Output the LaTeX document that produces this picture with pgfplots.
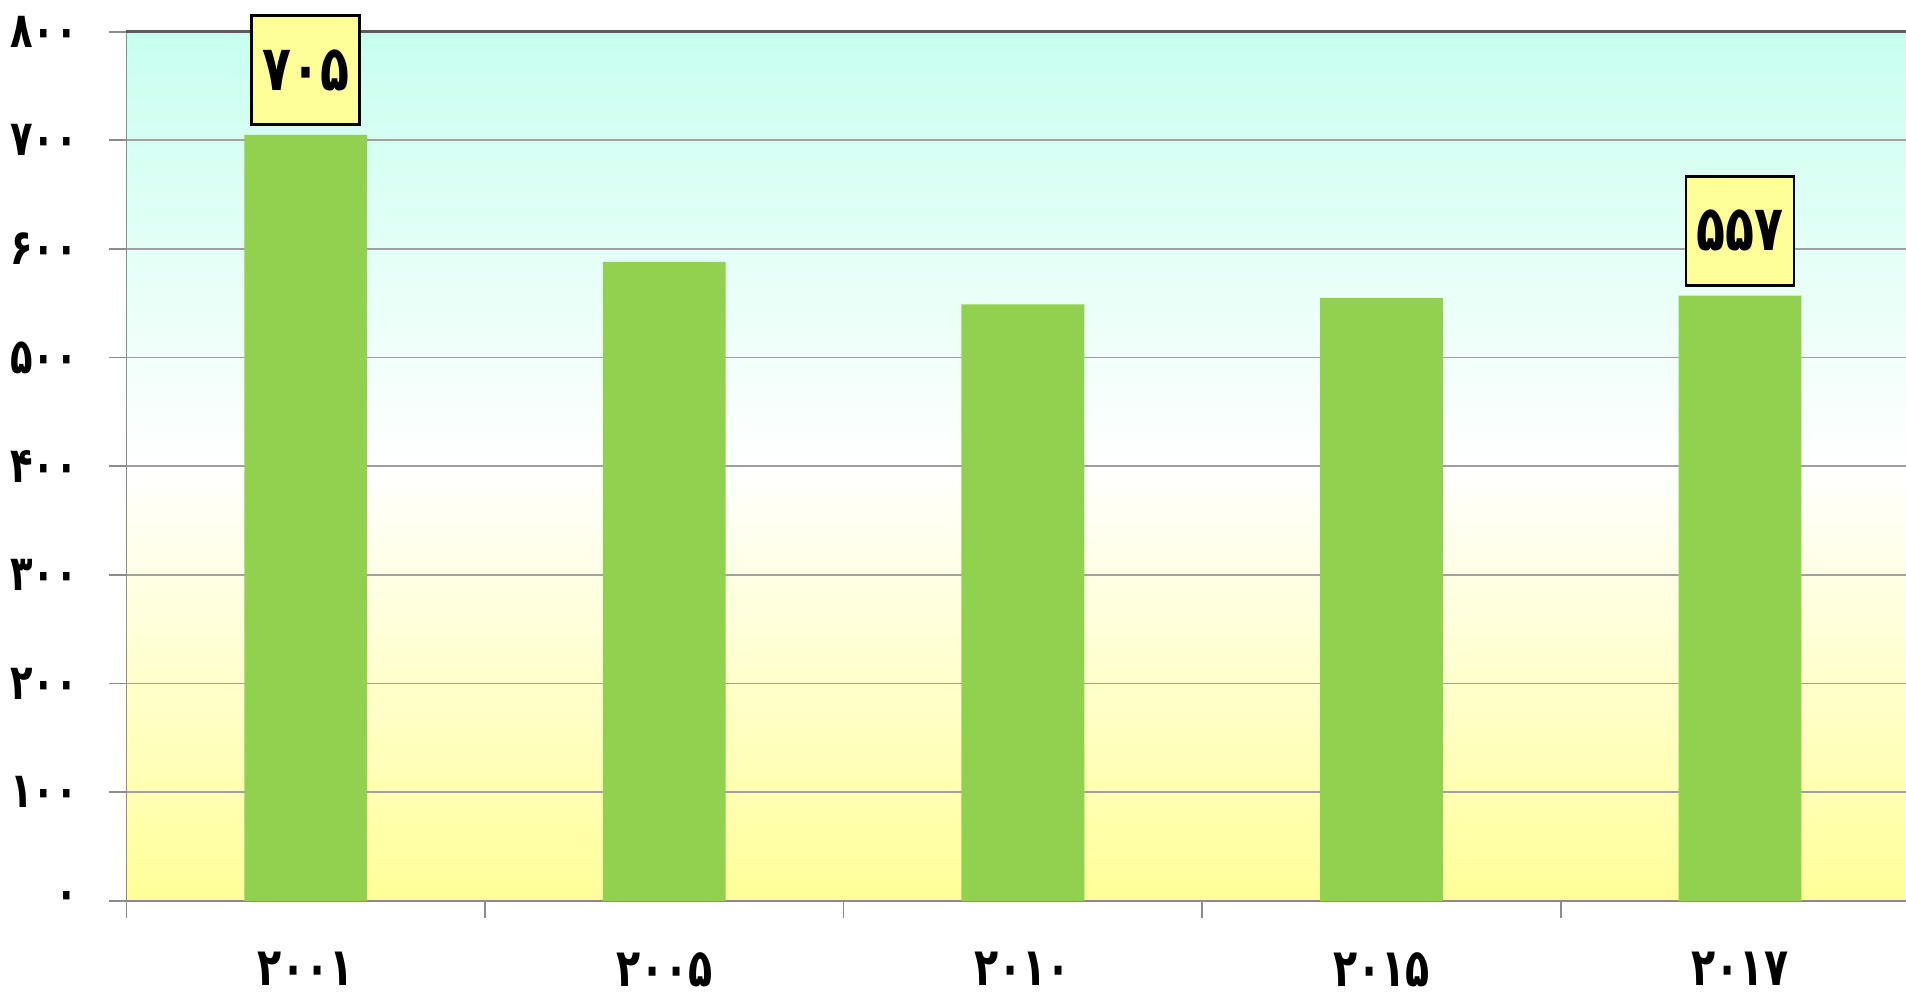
\documentclass[border=0pt]{standalone}
\usepackage{fontspec}
\usepackage{pgfplots}
\pgfplotsset{compat=1.18}
\newfontfamily\fa[Script=Arabic, FakeStretch=0.75]{DejaVu Sans}
\definecolor{bargreen}{HTML}{92D050}
\definecolor{bgtop}{HTML}{C8FFEE}
\definecolor{bgbot}{HTML}{FFFF99}
\definecolor{lblfill}{HTML}{FFFF99}
\definecolor{gridgray}{HTML}{A0A0A0}
\definecolor{axgray}{HTML}{8C8C8C}
\begin{document}
\begin{tikzpicture}
\begin{axis}[
  at={(0,0)}, anchor=south west,
  scale only axis, width=17.796cm, height=8.692cm,
  xmin=-0.5, xmax=4.463, ymin=0, ymax=800,
  clip=false,
  axis lines=left,
  axis line style={-, draw=axgray, line width=0.5pt},
  axis background/.style={shade, top color=bgtop, bottom color=bgbot, middle color=white},
  tick align=outside,
  major tick length=0.17cm,
  tick style={draw=axgray, line width=0.5pt},
  ytick={0,100,...,800},
  yticklabels={۰,۱۰۰,۲۰۰,۳۰۰,۴۰۰,۵۰۰,۶۰۰,۷۰۰,۸۰۰},
  xtick={-0.5,0.5,1.5,2.5,3.5},
  xticklabels={۲۰۰۱,۲۰۰۵,۲۰۱۰,۲۰۱۵,۲۰۱۷},
  xticklabel style={xshift=1.7929cm, yshift=-0.22cm, font={\fa\bfseries\fontsize{15}{17}\selectfont}},
  yticklabel style={anchor=east, xshift=-0.19cm, font={\fa\bfseries\fontsize{14}{16}\selectfont}},
  ymajorgrids,
  grid style={draw=gridgray, line width=0.45pt},
]
\addplot[ybar, bar shift=0pt, bar width=1.228cm, fill=bargreen, draw=none]
  coordinates {(0,705) (1,588) (2,549) (3,555) (4,557)};
\addplot[ybar, bar shift=0pt, bar width=1.228cm, fill=none, draw=none,
  nodes near coords, point meta=explicit symbolic,
  every node near coord/.append style={anchor=south, yshift=0.09cm, draw=black,
    line width=0.7pt, fill=lblfill, minimum width=1.08cm, minimum height=1.09cm,
    inner sep=0pt, font={\fa\bfseries\fontsize{18}{20}\selectfont}}]
  coordinates {(0,705)[۷۰۵] (4,557)[۵۵۷]};
\draw[draw=black!65, line width=0.8pt] (axis cs:-0.5,800) -- (axis cs:4.463,800);
\end{axis}
\pgfresetboundingbox
\path[use as bounding box] (-1.264cm,-0.942cm) rectangle (17.796cm,9.008cm);
\end{tikzpicture}
\end{document}
